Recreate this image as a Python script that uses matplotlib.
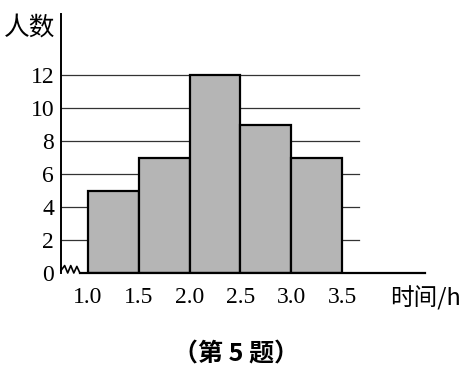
import matplotlib
matplotlib.use("Agg")
import matplotlib.pyplot as plt

# histogram data (time in hours, number of people)
bin_left = [1.0, 1.5, 2.0, 2.5, 3.0]
bin_width = 0.5
counts = [5, 7, 12, 9, 7]
x_ticks = [1.0, 1.5, 2.0, 2.5, 3.0, 3.5]
x_tick_labels = ["1.0", "1.5", "2.0", "2.5", "3.0", "3.5"]
y_ticks = [0, 2, 4, 6, 8, 10, 12]

cjk = ["Noto Sans CJK SC", "DejaVu Sans"]
serif = ["Liberation Serif", "Noto Sans CJK SC"]

W, H = 467, 380
fig = plt.figure(figsize=(W / 100, H / 100), dpi=100)
ax = fig.add_axes([61 / W, (H - 273) / H, (425 - 61) / W, (273 - 14) / H])

x0, x1 = 0.734, 4.317
ax.set_xlim(x0, x1)
ax.set_ylim(0, 15.7)

# horizontal grid lines, they stop a bit after the last bar
grid_end = 3.67
for yv in y_ticks[1:]:
    ax.plot([x0, grid_end], [yv, yv], color="#333333", lw=0.9, zorder=1)

ax.bar(bin_left, counts, width=bin_width, align="edge", color="#b5b5b5",
       edgecolor="black", linewidth=1.6, zorder=2)

for s in ["top", "right", "bottom"]:
    ax.spines[s].set_visible(False)
ax.spines["left"].set_linewidth(1.4)

# broken-axis zigzag near the origin, then the x axis line
zx = [x0, 0.77, 0.80, 0.83, 0.86, 0.89, 0.92]
zy = [0.15, 0.45, 0.0, 0.45, 0.0, 0.40, 0.0]
ax.plot(zx, zy, color="black", lw=1.2, clip_on=False, zorder=3)
ax.plot([0.92, x1], [0, 0], color="black", lw=1.6, clip_on=False, zorder=3)

ax.set_yticks(y_ticks)
ax.set_yticklabels([str(v) for v in y_ticks], family=serif, fontsize=17)
ax.tick_params(axis="y", length=0, pad=5)
ax.set_xticks(x_ticks)
ax.set_xticklabels(x_tick_labels, family=serif, fontsize=17)
ax.tick_params(axis="x", length=0, pad=10)

fig.text(30 / W, 1 - 28 / H, "人数", family=cjk, fontsize=18.5,
         ha="center", va="center")
fig.text(425 / W, 1 - 298 / H, "时间/h", family=cjk, fontsize=17,
         ha="center", va="center")
fig.text(236 / W, 1 - 355 / H, "（第 5 题）", family=cjk, fontsize=18,
         fontweight="bold", ha="center", va="center")

fig.savefig("out.png", dpi=100)
